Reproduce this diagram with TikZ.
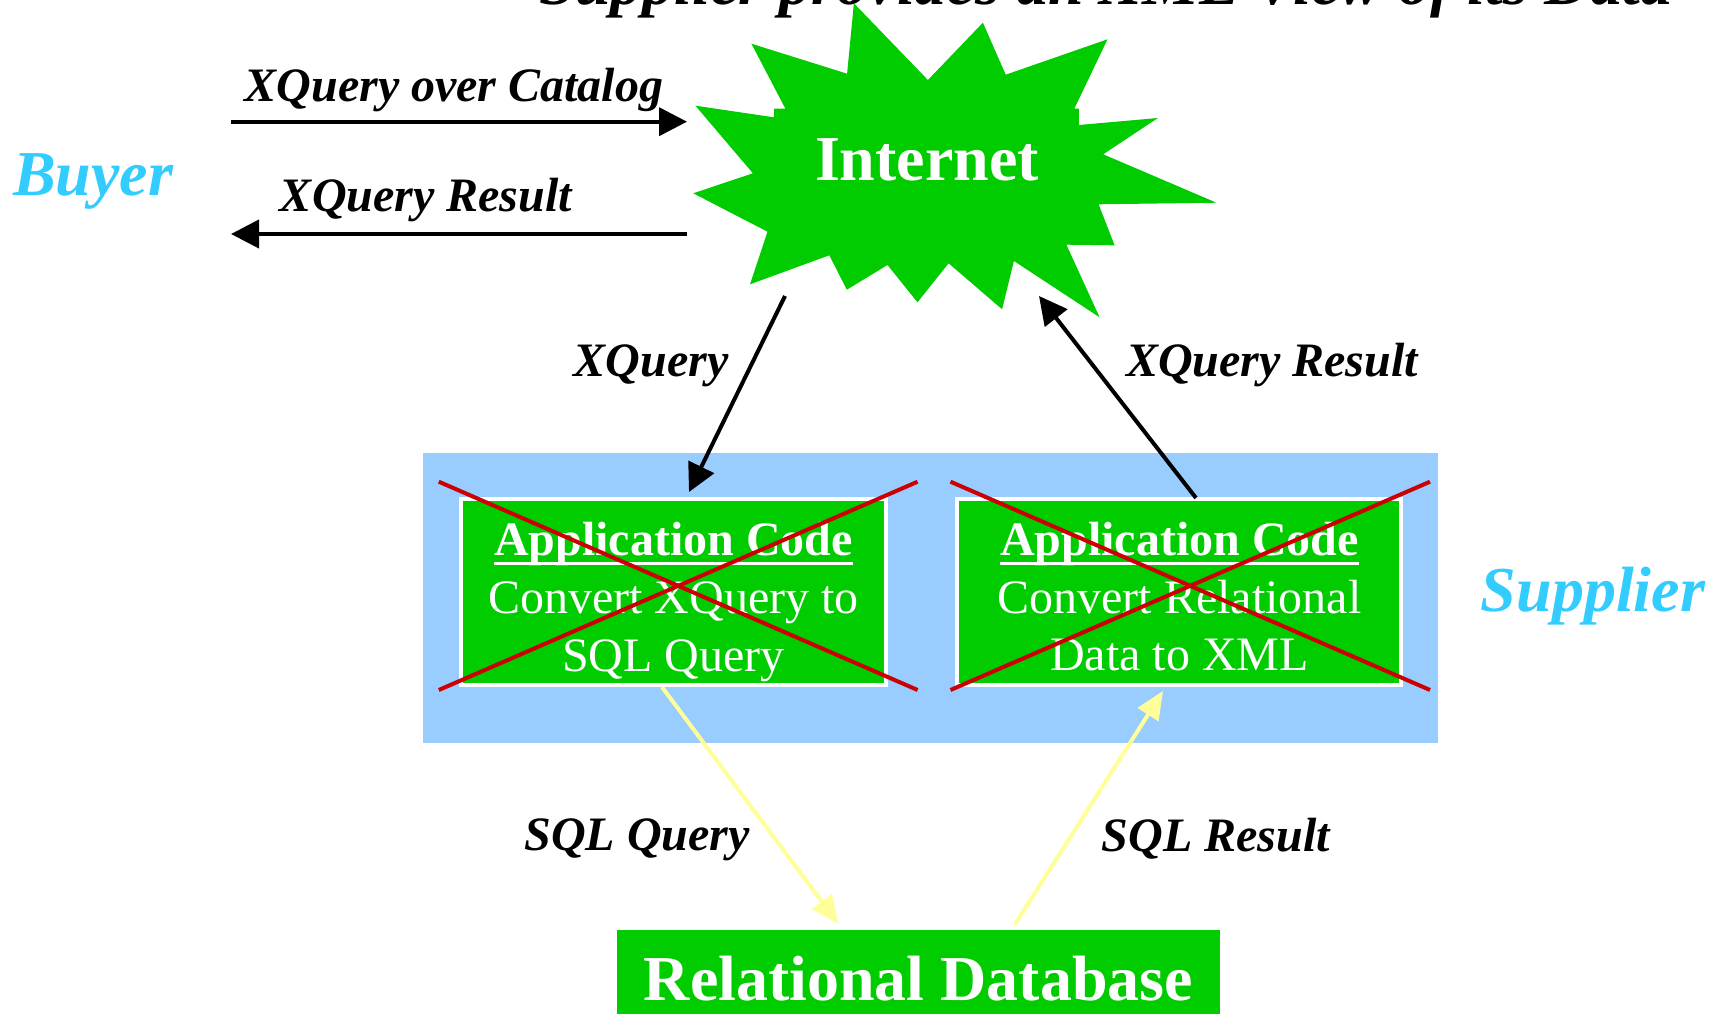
\documentclass[tikz,border=0pt]{standalone}
\usepackage{fontspec}
\setmainfont{Liberation Serif}
\usetikzlibrary{arrows.meta}

\definecolor{netgreen}{HTML}{00CC00}
\definecolor{panelblue}{HTML}{99CCFF}
\definecolor{crossred}{HTML}{CC0000}
\definecolor{sqlyellow}{HTML}{FFFF99}
\definecolor{rolecyan}{HTML}{33CCFF}

% bold heading with a rule drawn through the descenders
\newcommand\ulhead[1]{\setbox0=\hbox{\bfseries #1}\rlap{\rule[-9.7pt]{\wd0}{2.7pt}}\box0}

\tikzset{
  txt/.style={inner sep=0pt, outer sep=0pt, anchor=base},
  flowlabel/.style={txt, font=\fontsize{48}{58}\selectfont\bfseries\itshape},
  rolelabel/.style={txt, text=rolecyan, font=\fontsize{64}{70}\selectfont\bfseries\itshape},
  boxline/.style={txt, text=white, font=\fontsize{48}{58}\selectfont},
  appbox/.style={draw=white, line width=4pt, fill=netgreen, inner sep=0pt, minimum height=186pt},
  blackarrow/.style={draw=black, line width=4pt, -{Triangle[length=28pt,width=28pt]}},
  sqlarrow/.style={draw=sqlyellow, line width=4pt, -{Triangle[length=28pt,width=24pt]}},
  crossline/.style={draw=crossred, line width=4pt},
}

\begin{document}
\begin{tikzpicture}[x=1pt,y=-1pt]
\useasboundingbox[fill=white] (0,0) rectangle (1715,1014);

% title, running off the top edge
\node[txt, font=\fontsize{64}{70}\selectfont\bfseries\itshape] (title) at (1106,5)
  {Supplier provides an XML View of its Data};

% internet cloud
\fill[netgreen] (853.9,3.3) -- (927.9,80) -- (982.9,22.7) -- (1005.7,74.7) -- (1107.5,39.3)
  -- (1074.3,108.7) -- (1078.9,108.7) -- (1078.9,125) -- (1157.9,118) -- (1103.2,154.3)
  -- (1216.4,202.7) -- (1098.6,204.3) -- (1114.6,245.3) -- (1066.4,244.7) -- (1099.6,317.3)
  -- (1013.9,261) -- (1002.1,309.3) -- (948.6,263.3) -- (917.5,302.3) -- (887.5,265)
  -- (846.8,289.7) -- (829.3,255.3) -- (750,284.3) -- (767.5,231.7) -- (693.2,193.3)
  -- (752.9,173.3) -- (695.4,105.7) -- (773.9,117.3) -- (773.9,108.7) -- (785.4,108.7)
  -- (751.4,43.7) -- (847.1,73.7) -- cycle;
\node[txt, text=white, font=\fontsize{64}{70}\selectfont\bfseries] (internet) at (927,180) {Internet};

% buyer side
\node[rolelabel] (buyer) at (93,195) {Buyer};
\node[flowlabel] (lblcatalog) at (454,101.7) {XQuery over Catalog};
\node[flowlabel] (lblbuyres) at (426,211.7) {XQuery Result};
\coordinate (buyerout) at (231,121.7);
\coordinate (netin) at (687,121.7);
\coordinate (netout) at (687,234);
\coordinate (buyerin) at (231,234);
\draw[blackarrow] (buyerout) -- (netin);
\draw[blackarrow] (netout) -- (buyerin);

% supplier panel
\node[fill=panelblue, inner sep=0pt, minimum width=1014.6pt, minimum height=290pt] (panel) at (930.7,598.3) {};
\node[rolelabel] (supplier) at (1593,611.7) {Supplier};

\node[appbox, minimum width=424.5pt] (appL) at (673.25,592) {};
\node[appbox, minimum width=444.5pt] (appR) at (1178.75,592) {};

\node[boxline] (appLa) at (673.5,555) {\ulhead{Application Code}};
\node[boxline] (appLb) at (673.5,613.3) {Convert XQuery to};
\node[boxline] (appLc) at (673.5,671.7) {SQL Query};
\node[boxline] (appRa) at (1179.5,555) {\ulhead{Application Code}};
\node[boxline] (appRb) at (1179.5,613.3) {Convert Relational};
\node[boxline] (appRc) at (1179.5,670.5) {Data to XML};

% crossed-out application code
\draw[crossline] (438.8,481.7) -- (917.6,690);
\draw[crossline] (438.8,690) -- (917.6,481.7);
\draw[crossline] (950.5,481.7) -- (1430,690);
\draw[crossline] (950.5,690) -- (1430,481.7);

% internet <-> application code
\coordinate (netdown) at (785,296);
\coordinate (appLin) at (689,492);
\coordinate (appRout) at (1196,498);
\coordinate (netup) at (1039,296);
\draw[blackarrow] (netdown) -- (appLin);
\draw[blackarrow] (appRout) -- (netup);
\node[flowlabel] (lblxq) at (651,376) {XQuery};
\node[flowlabel] (lblxqres) at (1272,376) {XQuery Result};

% relational database
\node[fill=netgreen, inner sep=0pt, minimum width=603pt, minimum height=100pt] (db) at (918.5,980) {};
\node[txt, text=white, font=\fontsize{64}{70}\selectfont\bfseries] (dbtext) at (918.5,1000.7) {Relational Database};

\coordinate (appLout) at (662,687);
\coordinate (dbin) at (838.5,924);
\coordinate (dbout) at (1014.5,925);
\coordinate (appRin) at (1163,691);
\draw[sqlarrow] (appLout) -- (dbin);
\draw[sqlarrow] (dbout) -- (appRin);
\node[flowlabel] (lblsqlq) at (637,850) {SQL Query};
\node[flowlabel] (lblsqlr) at (1216,851) {SQL Result};
\end{tikzpicture}
\end{document}
